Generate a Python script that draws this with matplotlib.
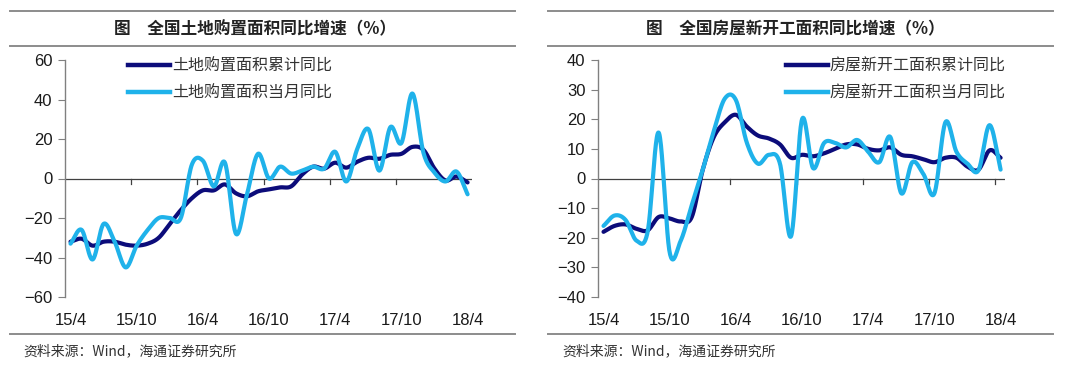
import numpy as np
import matplotlib
matplotlib.use('Agg')
import matplotlib.pyplot as plt
import matplotlib.transforms as mtransforms
from matplotlib.lines import Line2D

plt.rcParams['font.family'] = ['Liberation Sans', 'Noto Sans CJK SC', 'DejaVu Sans']

# monthly data, 15/4 .. 18/4
months = ['15/4', '15/5', '15/6', '15/7', '15/8', '15/9', '15/10', '15/11', '15/12',
          '16/1', '16/2', '16/3', '16/4', '16/5', '16/6', '16/7', '16/8', '16/9', '16/10',
          '16/11', '16/12', '17/1', '17/2', '17/3', '17/4', '17/5', '17/6', '17/7', '17/8',
          '17/9', '17/10', '17/11', '17/12', '18/1', '18/2', '18/3', '18/4']
tick_labels = ['15/4', '15/10', '16/4', '16/10', '17/4', '17/10', '18/4']

land_cum = [-32, -30.5, -34, -32, -32, -33.5, -34, -33, -30, -23, -16, -10, -6,
            -6, -3, -7.5, -9, -6.5, -5.5, -4.5, -4, 2, 6, 5, 8, 5.5, 8.5, 10.5,
            10, 12, 12.5, 16, 14.5, 5, -1, 1, -2]
land_mon = [-33, -26, -41, -23, -32, -45, -34, -26, -20, -20, -20, 7, 9,
            -4, 8, -28, -8, 12.5, 0, 6, 2.5, 4, 6, 5, 13.5, -1.5, 15, 25,
            4, 26, 18, 43, 13, 3, -1.5, 3.5, -8]

start_cum = [-18, -16, -15.5, -17, -17.5, -13, -13.5, -14.5, -13, 3, 14, 19, 21.5,
             17.5, 14.5, 13.5, 11.5, 7, 8, 7.5, 8.5, 10, 11.5, 11.5, 10, 9.5, 10.5,
             8, 7.5, 6.5, 5.5, 7, 7, 4, 3, 9.5, 7]
start_mon = [-16, -12.5, -14, -21, -18, 15.5, -25, -21, -9, 3, 16, 27, 26.5,
             12, 5, 8, 5, -19.5, 20, 3.5, 12, 12, 10.5, 13, 9, 5.5, 14, -5,
             5.5, 1.5, -5, 19, 9, 5, 2.8, 18, 3]

DARK = '#0c0c7a'
LIGHT = '#1fb2ea'


def smooth(x, y, n=24):
    # Catmull-Rom curve through the points (like Excel's smoothed line)
    x = np.asarray(x, float)
    y = np.asarray(y, float)
    px = np.concatenate([[2 * x[0] - x[1]], x, [2 * x[-1] - x[-2]]])
    py = np.concatenate([[2 * y[0] - y[1]], y, [2 * y[-1] - y[-2]]])
    xs, ys = [], []
    t = np.linspace(0, 1, n, endpoint=False)
    for i in range(1, len(px) - 2):
        for p, out in ((px, xs), (py, ys)):
            p0, p1, p2, p3 = p[i - 1], p[i], p[i + 1], p[i + 2]
            out.append(0.5 * ((2 * p1) + (-p0 + p2) * t +
                              (2 * p0 - 5 * p1 + 4 * p2 - p3) * t ** 2 +
                              (-p0 + 3 * p1 - 3 * p2 + p3) * t ** 3))
    xs.append([x[-1]])
    ys.append([y[-1]])
    return np.concatenate(xs), np.concatenate(ys)


fig = plt.figure(figsize=(10.8, 3.69), dpi=100)
W, H = 1080, 369

panels = [
    dict(left=65, title='图　全国土地购置面积同比增速（%）', cum=land_cum, mon=land_mon,
         lab=['土地购置面积累计同比', '土地购置面积当月同比'], ylim=(-60, 60), step=20,
         rule=(10, 515), tcx=255, legx=128, srcx=23),
    dict(left=598, title='图　全国房屋新开工面积同比增速（%）', cum=start_cum, mon=start_mon,
         lab=['房屋新开工面积累计同比', '房屋新开工面积当月同比'], ylim=(-40, 40), step=10,
         rule=(548, 1053), tcx=795, legx=786, srcx=562),
]

x = np.arange(len(months)) + 0.5

for p in panels:
    ax = fig.add_axes([p['left'] / W, 1 - 297 / H, 407 / W, 237 / H])
    ax.set_xlim(0, 36.9)
    ax.set_ylim(*p['ylim'])
    for s in ['top', 'right', 'bottom']:
        ax.spines[s].set_visible(False)
    ax.spines['left'].set_color('#808080')
    ax.spines['left'].set_linewidth(1)
    ax.set_yticks(np.arange(p['ylim'][0], p['ylim'][1] + 1, p['step']))
    ax.tick_params(axis='y', direction='out', length=5, color='#808080', labelsize=12, pad=4,
                   labelcolor='#1a1a1a')
    # zero line acts as the x axis, with tick marks below it
    ax.axhline(0, color='#404040', lw=0.9, zorder=1)
    ax.set_xticks([])
    for k in range(6, 37, 6):
        ax.plot([k, k], [0, -(p['ylim'][1] - p['ylim'][0]) * 0.022], color='#404040', lw=0.9,
                zorder=1)
    trans = mtransforms.blended_transform_factory(ax.transData, ax.transAxes)
    for i, lab in enumerate(tick_labels):
        ax.text(i * 6 + 0.5, -0.068, lab, transform=trans, ha='center', va='top', fontsize=12,
                color='#1a1a1a')

    sx, sy = smooth(x, p['cum'])
    ax.plot(sx, sy, color=DARK, lw=3, solid_capstyle='round', zorder=3)
    sx, sy = smooth(x, p['mon'])
    ax.plot(sx, sy, color=LIGHT, lw=3, solid_capstyle='round', zorder=4)

    handles = [Line2D([], [], color=DARK, lw=3.2), Line2D([], [], color=LIGHT, lw=3.2)]
    fig.legend(handles, p['lab'], loc='upper left',
               bbox_to_anchor=(p['legx'] / W, 1 - 58 / H), frameon=False,
               prop={'family': ['Noto Sans CJK SC'], 'size': 11.5},
               handlelength=2.6, handletextpad=0.15, labelspacing=0.6,
               borderaxespad=0, borderpad=0, labelcolor='#333333')

    # title block with rules
    x0, x1 = p['rule'][0] / W, p['rule'][1] / W
    for yy in (11, 46, 334):
        fig.add_artist(Line2D([x0, x1], [1 - yy / H, 1 - yy / H], color='#8c8c8c', lw=1.4))
    fig.text(p['tcx'] / W, 1 - 29 / H, p['title'], ha='center', va='center',
             fontsize=12, fontweight='bold', family=['Noto Sans CJK SC'], color='#222222')
    fig.text(p['srcx'] / W, 1 - 351 / H, '资料来源：Wind，海通证券研究所', ha='left', va='center',
             fontsize=10, family=['Noto Sans CJK SC', 'DejaVu Sans'], color='#333333')

fig.savefig('out.png', dpi=100)
